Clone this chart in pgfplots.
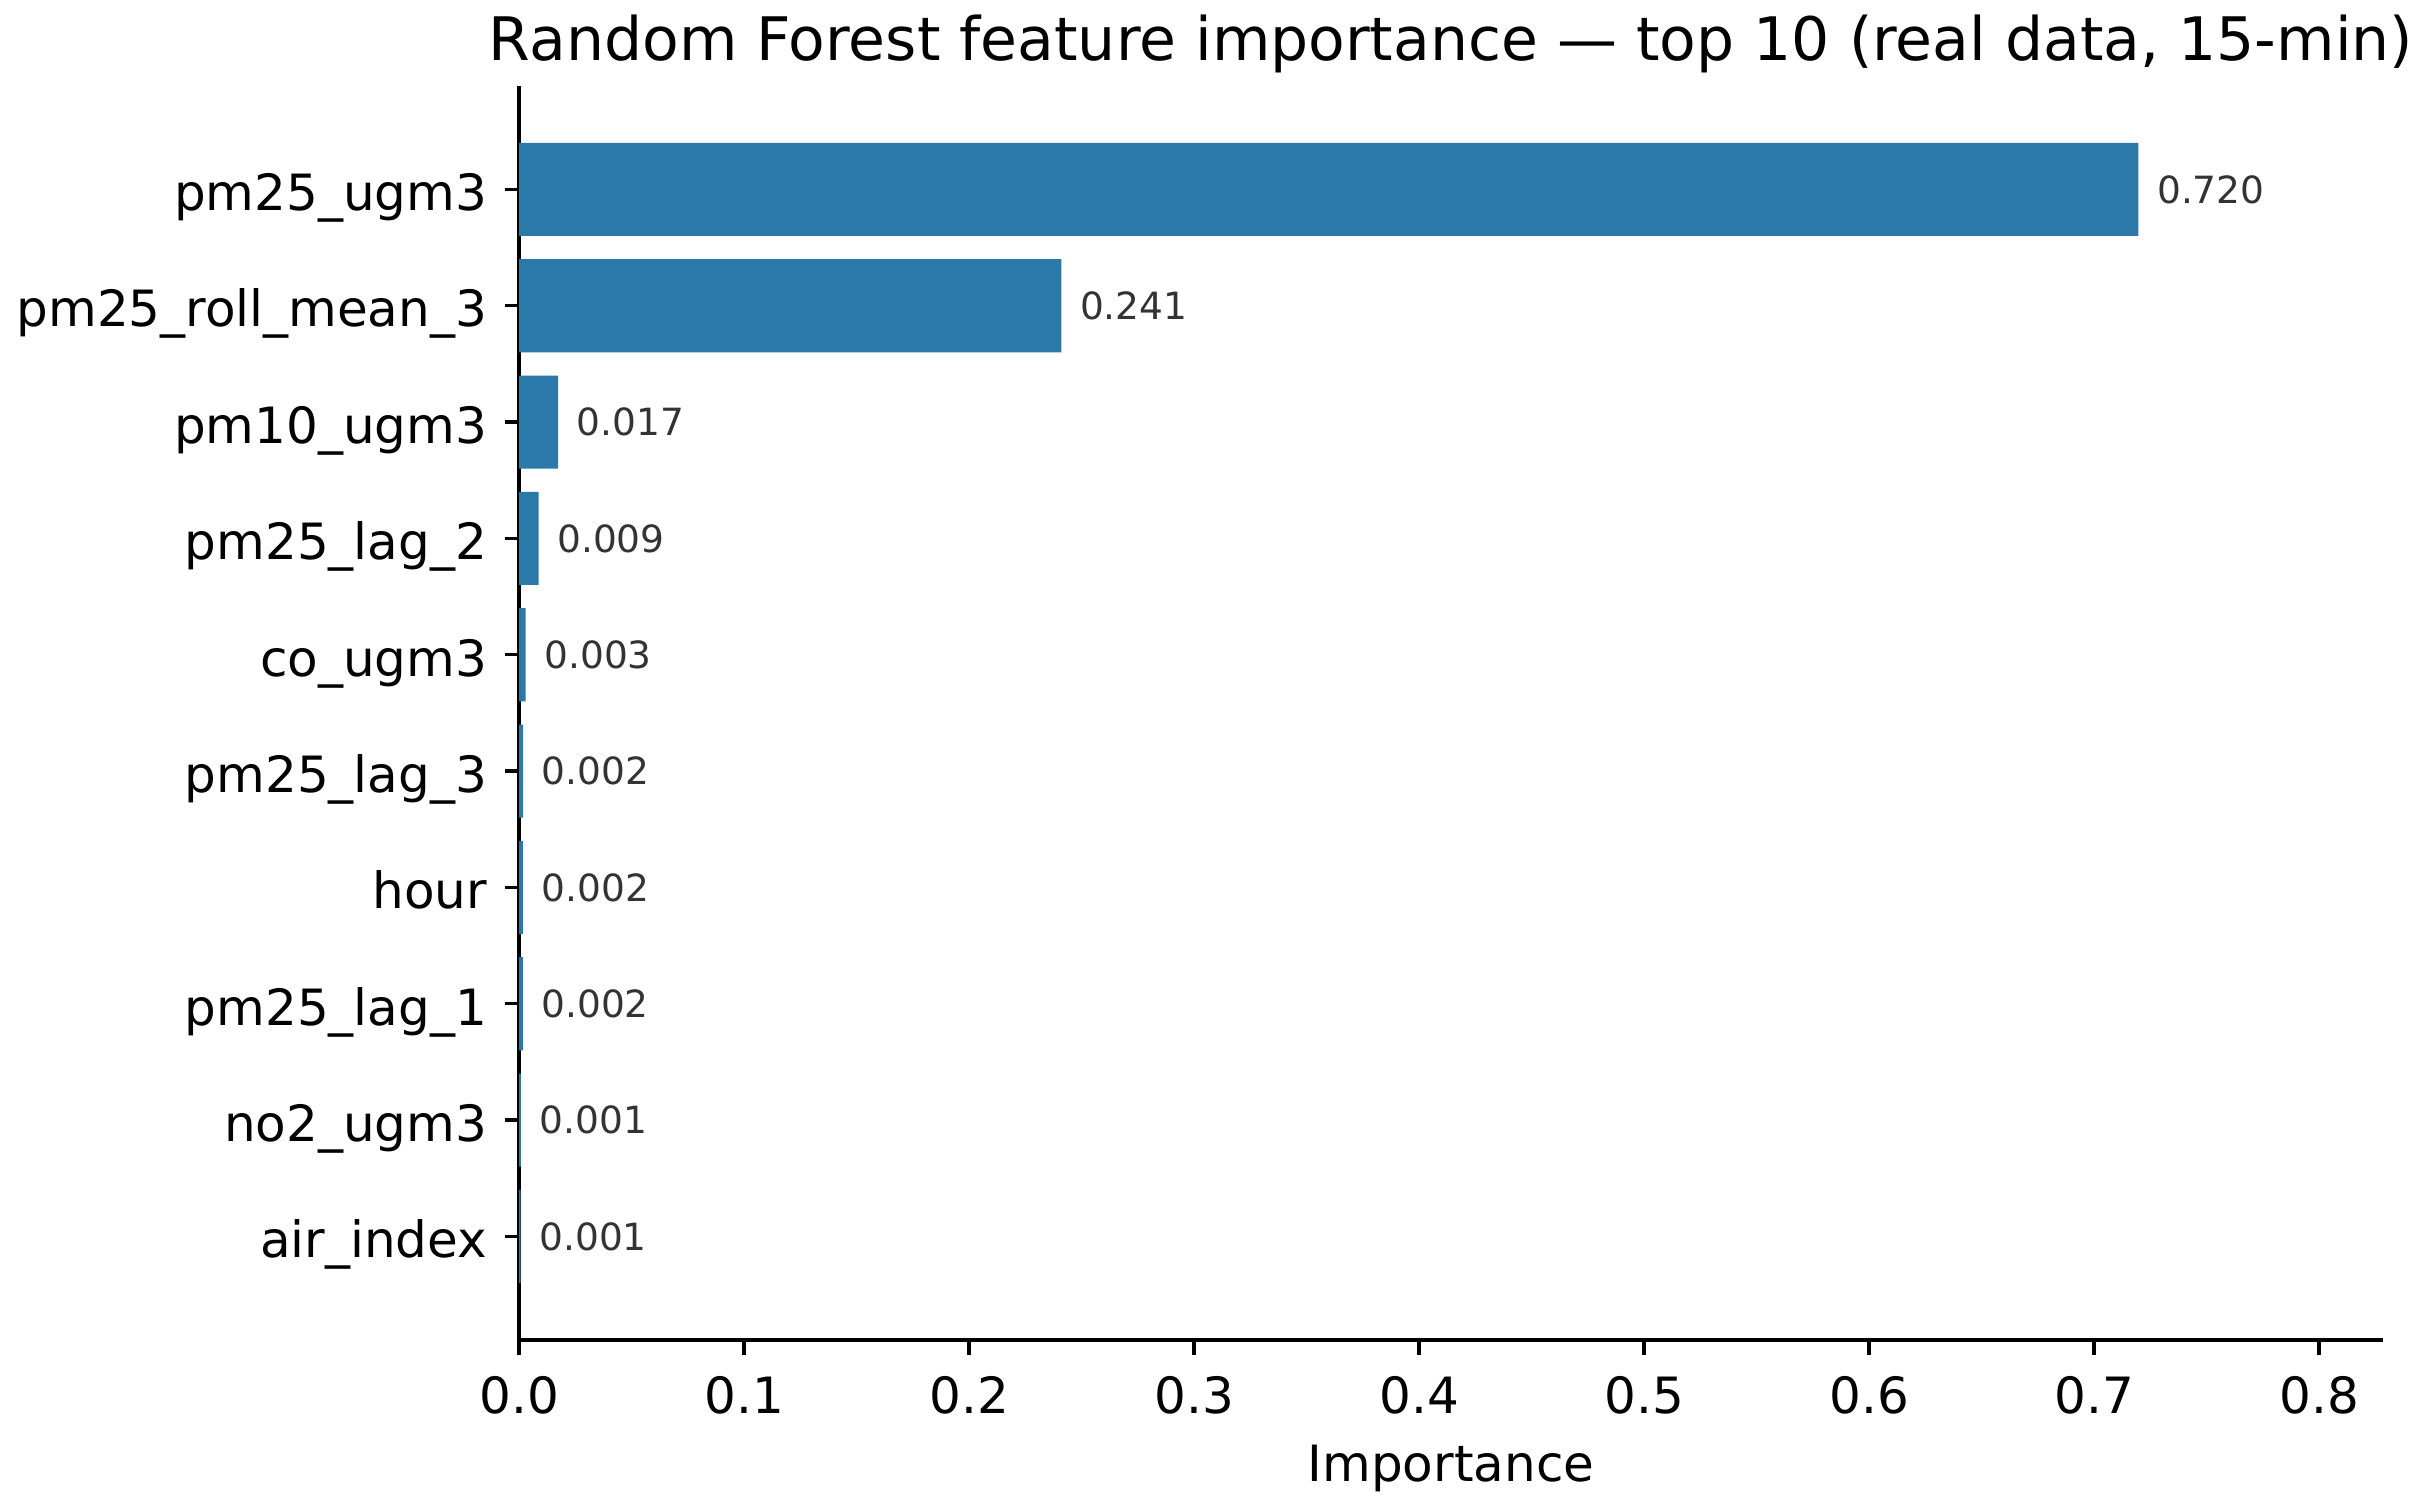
\documentclass[border=0pt]{standalone}
\usepackage{fontspec}
\setmainfont{DejaVu Sans}
\usepackage{pgfplots}
\usepackage{pgfplotstable}
\pgfplotsset{compat=1.18}
\definecolor{barblue}{HTML}{2A79A8}
\definecolor{valgray}{HTML}{333333}

\pgfplotstableread{
y x label
0 0.0007 0.001
1 0.0008 0.001
2 0.0016 0.002
3 0.0017 0.002
4 0.0018 0.002
5 0.0029 0.003
6 0.0086 0.009
7 0.0173 0.017
8 0.2410 0.241
9 0.7197 0.720
}\rfdata

\begin{document}
\begin{tikzpicture}
\path[use as bounding box] (-124.6pt,-40.6pt) rectangle (458.6pt,321.6pt);
\begin{axis}[
  at={(0,0)}, anchor=south west,
  scale only axis, width=447.3pt, height=301pt,
  xmin=0, xmax=0.8284, ymin=-0.89, ymax=9.89,
  xbar, bar width=0.8,
  axis lines=left, axis line style={-, line width=0.8pt, black},
  tick align=outside, major tick length=3.5pt,
  every tick/.style={black, line width=0.8pt},
  xtick={0,0.1,0.2,0.3,0.4,0.5,0.6,0.7,0.8},
  xticklabels={0.0,0.1,0.2,0.3,0.4,0.5,0.6,0.7,0.8},
  ytick={0,1,2,3,4,5,6,7,8,9},
  yticklabels={air\_index,no2\_ugm3,pm25\_lag\_1,hour,pm25\_lag\_3,co\_ugm3,pm25\_lag\_2,pm10\_ugm3,pm25\_roll\_mean\_3,pm25\_ugm3},
  /pgf/number format/assume math mode=true,
  tick label style={font=\fontsize{12}{14}\selectfont, text=black},
  xticklabel style={anchor=base, inner sep=0pt, yshift=-14.2pt},
  yticklabel style={anchor=base east, inner sep=0pt, xshift=-4pt, yshift=-5.1pt},
  xlabel={Importance},
  xlabel style={at={(axis description cs:0.5,0)}, anchor=base, inner sep=0pt, yshift=-33.9pt, font=\fontsize{12}{14}\selectfont},
  title={Random Forest feature importance — top 10 (real data, 15-min)},
  title style={at={(axis description cs:0.5,1)}, anchor=base, inner sep=0pt, font=\fontsize{14.4}{17}\selectfont},
  nodes near coords, point meta=explicit symbolic,
  nodes near coords style={font=\fontsize{9}{11}\selectfont, text=valgray, anchor=west, inner sep=0pt, xshift=4.3pt},
  clip=false,
]
\addplot[fill=barblue, draw=none] table[x=x, y=y, meta=label]{\rfdata};
\end{axis}
\end{tikzpicture}
\end{document}
